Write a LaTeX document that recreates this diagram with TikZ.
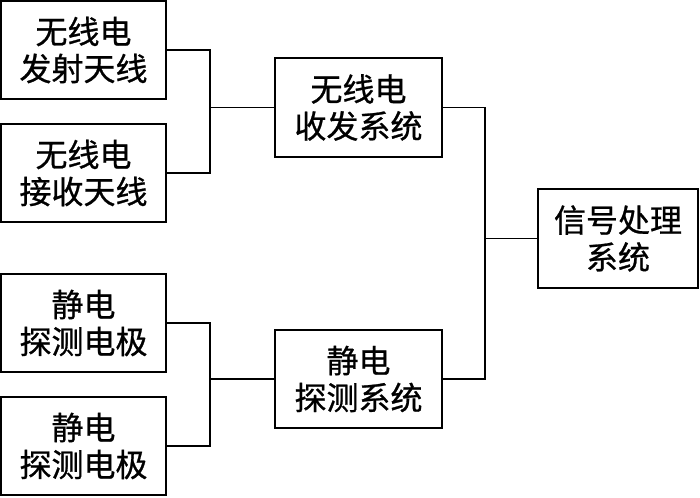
\documentclass[tikz,border=0pt]{standalone}
\usepackage{fontspec}
\newfontfamily\cjk[FakeBold=0.8]{Noto Sans CJK SC}
\begin{document}
\begin{tikzpicture}[x=1pt,y=-1pt,
  blk/.style={draw=black,line width=1.8pt,inner sep=0pt,align=center,
    font=\cjk\fontsize{32}{37}\selectfont},
  conn/.style={draw=black,line width=1.8pt}]
\useasboundingbox (0,0) rectangle (700,497);
\node[blk,minimum width=165pt,minimum height=98pt] (A) at (83.5,50) {无线电\\发射天线};
\node[blk,minimum width=165pt,minimum height=98pt] (B) at (83.5,173) {无线电\\接收天线};
\node[blk,minimum width=165pt,minimum height=98pt] (C) at (83.5,323) {静电\\探测电极};
\node[blk,minimum width=165pt,minimum height=98pt] (D) at (83.5,446) {静电\\探测电极};
\node[blk,minimum width=167pt,minimum height=99pt] (E) at (358.5,107.5) {无线电\\收发系统};
\node[blk,minimum width=167pt,minimum height=98pt] (F) at (358.5,379) {静电\\探测系统};
\node[blk,minimum width=160pt,minimum height=99pt] (G) at (618,238.5) {信号处理\\系统};
\coordinate (j1) at (210,107.5);
\coordinate (j2) at (210,379);
\coordinate (j3) at (485,238.5);
\draw[conn] (A.east) -| (j1) |- (B.east);
\draw[conn] (j1) -- (E.west);
\draw[conn] (C.east) -| (j2) |- (D.east);
\draw[conn] (j2) -- (F.west);
\draw[conn] (E.east) -| (j3) |- (F.east);
\draw[conn] (j3) -- (G.west);
\end{tikzpicture}
\end{document}
